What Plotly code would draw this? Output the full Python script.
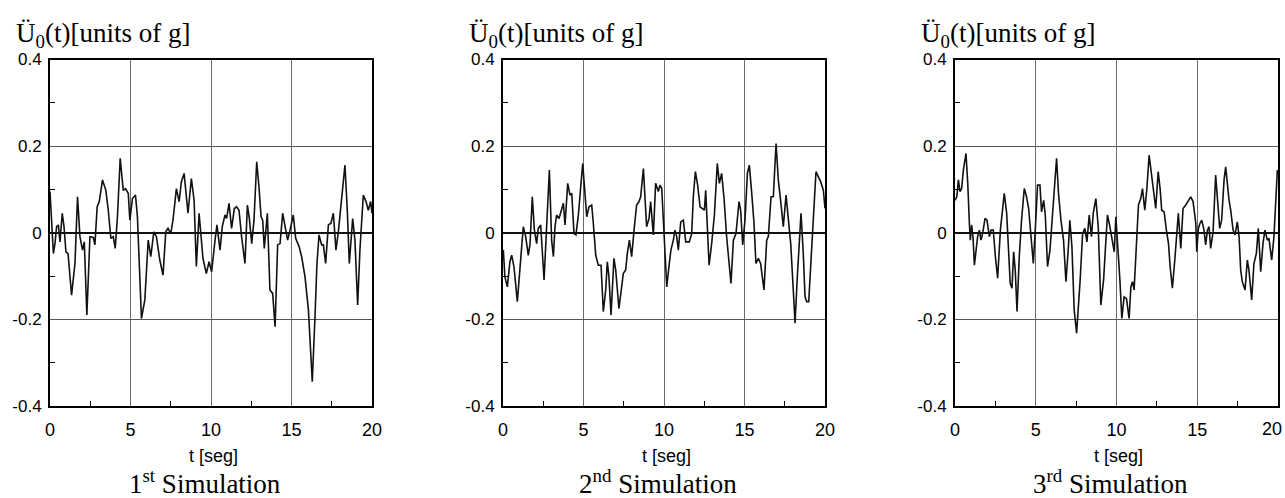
import plotly.graph_objects as go

# ---------------- data ----------------
t1 = [0.00, 0.21, 0.31, 0.41, 0.52, 0.62, 0.76, 0.87, 0.99, 1.12, 1.34, 1.55, 1.71, 1.86, 2.02, 2.13,
      2.29, 2.48, 2.69, 2.79, 2.93, 3.06, 3.26, 3.47, 3.62, 3.78, 3.93, 4.05, 4.19, 4.36, 4.55, 4.69,
      4.86, 4.96, 5.12, 5.31, 5.43, 5.68, 5.89, 6.10, 6.26, 6.45, 6.61, 6.82, 7.02, 7.19, 7.33, 7.50,
      7.64, 7.85, 8.02, 8.16, 8.33, 8.47, 8.57, 8.78, 8.95, 9.09, 9.26, 9.50, 9.71, 9.88, 10.04, 10.25,
      10.37, 10.56, 10.70, 10.87, 10.97, 11.12, 11.28, 11.45, 11.59, 11.74, 11.90, 12.11, 12.26, 12.38,
      12.53, 12.67, 12.84, 12.98, 13.11, 13.21, 13.31, 13.50, 13.66, 13.83, 13.98, 14.14, 14.29, 14.45,
      14.60, 14.76, 14.91, 15.11, 15.26, 15.47, 15.63, 15.84, 16.05, 16.21, 16.29, 16.46, 16.58, 16.71,
      16.87, 16.98, 17.12, 17.29, 17.45, 17.60, 17.76, 17.91, 18.12, 18.32, 18.47, 18.59, 18.80, 18.94,
      19.11, 19.25, 19.46, 19.63, 19.77, 19.92, 20.00]
v1 = [0.095, -0.048, -0.025, 0.014, 0.018, -0.021, 0.045, 0.014, -0.044, -0.048, -0.144, -0.071, 0.083,
      -0.009, -0.040, -0.021, -0.190, -0.009, -0.011, -0.028, 0.060, 0.072, 0.122, 0.098, 0.052, -0.013,
      -0.009, -0.036, 0.037, 0.172, 0.098, 0.102, 0.091, 0.029, 0.079, 0.087, 0.037, -0.198, -0.155,
      -0.017, -0.055, 0.002, -0.009, -0.063, -0.098, 0.002, 0.010, -0.002, 0.029, 0.102, 0.072, 0.118,
      0.137, 0.072, 0.045, 0.125, 0.075, -0.078, 0.045, -0.059, -0.094, -0.067, -0.090, -0.017, 0.018,
      -0.040, 0.014, 0.041, 0.033, 0.068, 0.010, 0.056, 0.060, 0.052, -0.009, -0.071, 0.064, 0.033,
      -0.025, 0.029, 0.164, 0.106, 0.037, 0.029, -0.036, 0.045, -0.132, -0.140, -0.217, -0.028, -0.025,
      0.045, 0.018, -0.017, 0.006, 0.041, -0.013, -0.032, -0.055, -0.102, -0.178, -0.286, -0.344, -0.194,
      -0.071, -0.005, -0.028, -0.028, -0.071, 0.018, 0.022, 0.045, -0.040, 0.002, 0.083, 0.156, 0.048,
      -0.071, 0.033, -0.017, -0.167, -0.040, 0.087, 0.072, 0.052, 0.072, 0.045]

t2 = [0.02, 0.12, 0.27, 0.43, 0.54, 0.68, 0.89, 1.06, 1.26, 1.41, 1.57, 1.68, 1.82, 1.95, 2.09, 2.19,
      2.34, 2.55, 2.71, 2.88, 3.02, 3.13, 3.23, 3.33, 3.48, 3.60, 3.75, 3.85, 4.02, 4.16, 4.27, 4.41,
      4.53, 4.68, 4.82, 4.95, 5.09, 5.20, 5.34, 5.51, 5.61, 5.76, 5.92, 6.09, 6.23, 6.38, 6.48, 6.58,
      6.71, 6.89, 7.00, 7.20, 7.37, 7.47, 7.62, 7.72, 7.85, 7.99, 8.16, 8.30, 8.45, 8.55, 8.72, 8.82,
      8.92, 9.07, 9.17, 9.34, 9.48, 9.65, 9.75, 9.86, 9.96, 10.06, 10.17, 10.33, 10.43, 10.58, 10.68,
      10.79, 10.89, 11.04, 11.20, 11.35, 11.57, 11.72, 11.82, 11.95, 12.09, 12.24, 12.38, 12.51, 12.59,
      12.69, 12.80, 12.96, 13.13, 13.31, 13.44, 13.58, 13.73, 13.89, 14.04, 14.16, 14.31, 14.47, 14.66,
      14.76, 14.89, 15.03, 15.18, 15.30, 15.45, 15.59, 15.71, 15.86, 16.00, 16.21, 16.38, 16.48, 16.65,
      16.79, 16.96, 17.10, 17.25, 17.41, 17.58, 17.72, 17.87, 18.03, 18.14, 18.28, 18.41, 18.51, 18.65,
      18.76, 18.86, 18.99, 19.11, 19.28, 19.44, 19.59, 19.73, 19.90, 20.00]
v2 = [-0.040, -0.102, -0.125, -0.067, -0.052, -0.078, -0.159, -0.078, 0.014, -0.009, -0.052, -0.025,
      0.083, 0.006, -0.025, 0.010, 0.018, -0.109, 0.006, 0.145, -0.017, -0.055, 0.014, 0.041, 0.033,
      0.048, 0.068, 0.018, 0.114, 0.087, 0.091, -0.002, -0.005, 0.041, 0.106, 0.160, 0.091, 0.037,
      0.060, 0.064, 0.022, -0.052, -0.075, -0.075, -0.182, -0.132, -0.067, -0.102, -0.190, -0.059,
      -0.086, -0.175, -0.125, -0.094, -0.086, -0.048, -0.017, -0.055, 0.014, 0.064, 0.072, 0.083,
      0.148, 0.075, 0.014, 0.033, 0.072, -0.005, 0.114, 0.095, 0.110, 0.102, 0.029, -0.063, -0.125,
      -0.071, -0.040, -0.017, 0.006, -0.009, -0.040, 0.025, 0.029, -0.021, -0.021, -0.002, 0.083, 0.141,
      0.110, 0.060, 0.056, 0.052, 0.098, 0.006, -0.075, -0.025, 0.041, 0.160, 0.114, 0.137, 0.079,
      -0.009, -0.063, -0.117, -0.017, -0.002, 0.072, 0.052, -0.028, 0.029, 0.137, 0.156, 0.091, 0.022,
      -0.071, -0.059, -0.071, -0.132, -0.017, -0.009, 0.083, 0.083, 0.206, 0.122, 0.072, 0.014, 0.087,
      0.025, -0.025, -0.132, -0.209, -0.102, -0.025, 0.045, -0.048, -0.148, -0.159, -0.159, -0.078,
      0.037, 0.141, 0.129, 0.118, 0.098, 0.056]

t3 = [0.00, 0.11, 0.21, 0.31, 0.41, 0.52, 0.68, 0.79, 0.89, 0.95, 1.03, 1.12, 1.20, 1.30, 1.40, 1.51,
      1.61, 1.71, 1.86, 1.98, 2.13, 2.23, 2.37, 2.50, 2.64, 2.81, 2.91, 3.05, 3.20, 3.30, 3.42, 3.53,
      3.63, 3.73, 3.84, 3.98, 4.12, 4.29, 4.43, 4.56, 4.70, 4.85, 4.97, 5.11, 5.26, 5.36, 5.49, 5.59,
      5.73, 5.88, 6.00, 6.15, 6.29, 6.41, 6.56, 6.72, 6.87, 7.01, 7.11, 7.24, 7.38, 7.53, 7.65, 7.75,
      7.90, 8.04, 8.17, 8.31, 8.45, 8.56, 8.72, 8.87, 9.03, 9.20, 9.32, 9.44, 9.59, 9.69, 9.86, 9.96,
      10.06, 10.21, 10.33, 10.47, 10.62, 10.78, 10.89, 10.99, 11.09, 11.24, 11.36, 11.50, 11.61, 11.75,
      11.88, 12.02, 12.19, 12.33, 12.43, 12.58, 12.70, 12.80, 12.95, 13.09, 13.22, 13.32, 13.46, 13.61,
      13.73, 13.83, 13.98, 14.12, 14.29, 14.45, 14.60, 14.74, 14.91, 14.97, 15.07, 15.17, 15.28, 15.42,
      15.52, 15.63, 15.73, 15.83, 15.98, 16.14, 16.27, 16.39, 16.51, 16.66, 16.76, 16.86, 16.97, 17.07,
      17.22, 17.34, 17.48, 17.59, 17.69, 17.79, 17.96, 18.10, 18.20, 18.37, 18.51, 18.66, 18.78, 18.93,
      19.07, 19.19, 19.34, 19.44, 19.61, 19.75, 19.85, 19.96]
v3 = [0.075, 0.083, 0.122, 0.095, 0.102, 0.145, 0.183, 0.114, 0.022, -0.017, 0.018, -0.013, -0.075,
      -0.048, -0.009, 0.006, -0.017, -0.002, 0.033, 0.029, -0.009, 0.006, 0.006, -0.055, -0.105, 0.006,
      0.045, 0.091, 0.045, -0.017, -0.117, -0.128, -0.044, -0.086, -0.182, -0.055, 0.029, 0.102, 0.083,
      0.056, -0.017, -0.071, 0.006, 0.110, 0.110, 0.048, 0.075, 0.041, -0.078, -0.040, 0.022, 0.114,
      0.172, 0.091, 0.029, -0.017, -0.113, -0.040, 0.029, -0.032, -0.178, -0.232, -0.171, -0.109,
      -0.002, 0.010, -0.021, 0.041, -0.009, 0.045, 0.079, 0.014, -0.167, -0.109, -0.032, 0.041, 0.014,
      -0.009, -0.044, 0.037, -0.017, -0.109, -0.198, -0.148, -0.152, -0.198, -0.125, -0.113, -0.132,
      -0.017, 0.064, 0.079, 0.102, 0.052, 0.102, 0.179, 0.125, 0.083, 0.056, 0.141, 0.102, 0.052, 0.048,
      0.006, -0.025, -0.078, -0.128, -0.063, 0.010, 0.045, -0.036, 0.056, 0.064, 0.075, 0.083, 0.072,
      0.022, -0.044, 0.010, 0.022, 0.029, 0.006, -0.028, 0.006, 0.014, -0.036, 0.002, 0.133, 0.060,
      0.010, 0.029, 0.122, 0.152, 0.106, 0.075, 0.052, 0.006, -0.005, 0.025, -0.009, -0.086, -0.113,
      -0.132, -0.063, -0.086, -0.155, -0.071, -0.048, 0.010, -0.090, -0.025, 0.006, -0.017, -0.013,
      -0.063, -0.009, 0.056, 0.145]

series = [(t1, v1), (t2, v2), (t3, v3)]
y_tickvals = [-0.4, -0.2, 0, 0.2, 0.4]
y_ticktext = ["-0.4", "-0.2", "0", "0.2", "0.4"]
x_tickvals = [0, 5, 10, 15, 20]
x_ticktext = ["0", "5", "10", "15", "20"]
y_title = "Ü<sub>0</sub>(t)[units of g]"
x_title = "t [seg]"
sim_titles = ["1<sup>st</sup> Simulation", "2<sup>nd</sup> Simulation", "3<sup>rd</sup> Simulation"]

# ---------------- layout geometry ----------------
W, H = 1285, 498
x_domains = [(50 / W, 372 / W), (503 / W, 825 / W), (955 / W, 1278 / W)]
y_domain = ((H - 406) / H, (H - 59.5) / H)

SANS = "Liberation Sans, Arial, sans-serif"
SERIF = "Liberation Serif, Times New Roman, serif"

fig = go.Figure()
annotations = []
for i, (tt, vv) in enumerate(series):
    sfx = "" if i == 0 else str(i + 1)
    last = i == len(series) - 1
    fig.add_trace(go.Scatter(x=tt, y=vv, mode="lines",
                             line=dict(color="#111111", width=1.6),
                             xaxis="x" + sfx, yaxis="y" + sfx, showlegend=False,
                             hoverinfo="skip"))
    # the last panel's final tick label sits at the page edge; it is drawn
    # separately (at the same tick value) so it can be nudged inside the page
    xt_vals = x_tickvals[:-1] if last else x_tickvals
    xt_text = x_ticktext[:-1] if last else x_ticktext
    xa = dict(domain=list(x_domains[i]), range=[0, 20], anchor="y" + sfx, automargin=False,
              tickvals=xt_vals, ticktext=xt_text, ticks="", showgrid=True,
              gridcolor="#6a6a6a", gridwidth=1, zeroline=False,
              showline=True, linecolor="black", linewidth=2, mirror=True,
              tickfont=dict(family=SANS, size=18, color="black"),
              ticklabelstandoff=6,
              minor=dict(tickvals=[2.5, 7.5, 12.5, 17.5], ticks="inside", ticklen=5,
                         tickcolor="black", tickwidth=1, showgrid=False))
    ya = dict(domain=list(y_domain), range=[-0.4, 0.4], anchor="x" + sfx, automargin=False,
              tickvals=y_tickvals, ticktext=y_ticktext, ticks="", showgrid=True,
              gridcolor="#555555", gridwidth=1, zeroline=True, zerolinecolor="#111111",
              zerolinewidth=2, showline=True, linecolor="black", linewidth=2, mirror=True,
              tickfont=dict(family=SANS, size=17, color="black"),
              ticklabelstandoff=3, ticklabeloverflow="allow",
              minor=dict(tickvals=[-0.3, -0.1, 0.1, 0.3], ticks="inside", ticklen=5,
                         tickcolor="black", tickwidth=1, showgrid=False))
    fig.update_layout({"xaxis" + sfx: xa, "yaxis" + sfx: ya})

    if last:
        annotations.append(dict(text=x_ticktext[-1], x=x_tickvals[-1], xref="x" + sfx,
                                y=(H - 429) / H, yref="paper", xanchor="right", yanchor="middle",
                                xshift=6, showarrow=False,
                                font=dict(family=SANS, size=18, color="black")))

    x0, x1 = x_domains[i]
    xc = (x0 + x1) / 2
    annotations.append(dict(text=y_title, x=x0 - 36 / W, y=(H - 35) / H, xref="paper", yref="paper",
                            xanchor="left", yanchor="middle", showarrow=False,
                            font=dict(family=SERIF, size=27, color="black")))
    annotations.append(dict(text=x_title, x=xc + 2 / W, y=(H - 456) / H, xref="paper", yref="paper",
                            xanchor="center", yanchor="middle", showarrow=False,
                            font=dict(family=SANS, size=18, color="black")))
    annotations.append(dict(text=sim_titles[i], x=xc - 6 / W, y=(H - 482) / H, xref="paper", yref="paper",
                            xanchor="center", yanchor="middle", showarrow=False,
                            font=dict(family=SERIF, size=27, color="black")))

fig.update_layout(width=W, height=H, margin=dict(l=0, r=0, t=0, b=0, autoexpand=False),
                  paper_bgcolor="white", plot_bgcolor="white", annotations=annotations)

fig.write_html("out.html")
